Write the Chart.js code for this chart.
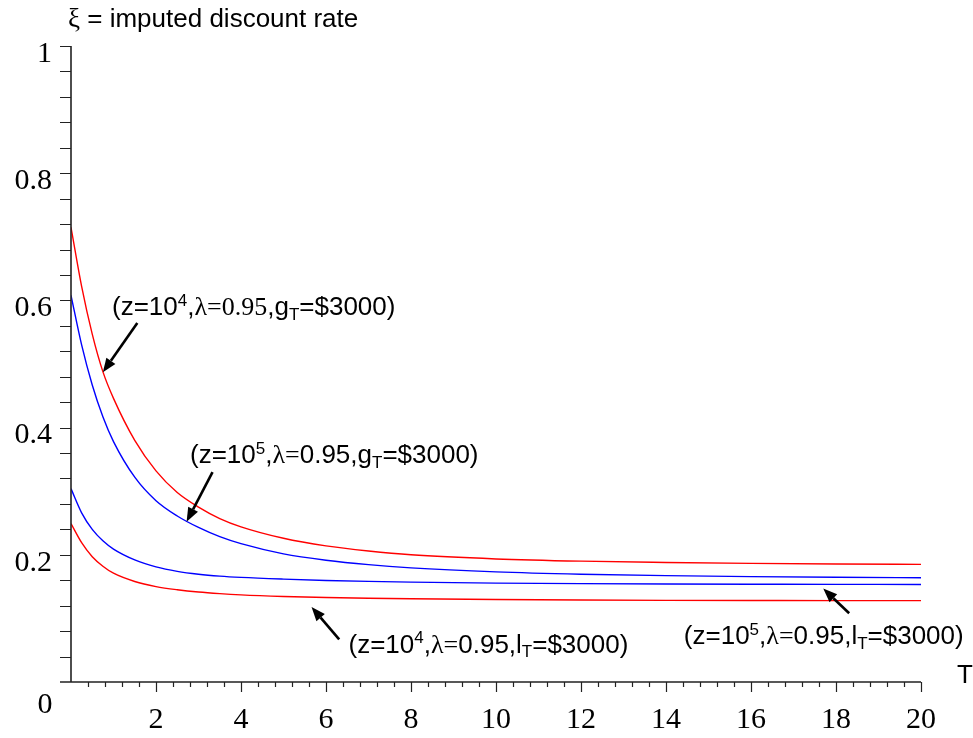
<!DOCTYPE html>
<html>
<head>
<meta charset="utf-8">
<script src="https://cdn.jsdelivr.net/npm/chart.js@4/dist/chart.umd.min.js"></script>
<style>
  body { margin: 0; background: #fff; }
  #rates { display: block; }
</style>
</head>
<body>
<canvas id="rates" width="973" height="738"></canvas>
<script>
// horizon T (years)
var T = [0, 0.25, 0.5, 0.75, 1, 1.5, 2, 2.5, 3, 3.5, 4, 5, 6, 7, 8, 10, 12, 14, 16, 18, 20];

// imputed discount rate for each case
var xiGain4 = [0.715, 0.622, 0.547, 0.488, 0.446, 0.38, 0.332, 0.298, 0.275, 0.257, 0.244, 0.226, 0.214, 0.206, 0.2, 0.1935, 0.19, 0.188, 0.1865, 0.1855, 0.185];
var xiGain5 = [0.608, 0.53, 0.467, 0.417, 0.378, 0.322, 0.285, 0.261, 0.243, 0.2285, 0.2175, 0.2015, 0.1915, 0.1845, 0.1795, 0.1732, 0.1695, 0.1672, 0.1657, 0.1647, 0.164];
var xiLoss5 = [0.304, 0.266, 0.24, 0.222, 0.209, 0.192, 0.181, 0.174, 0.1695, 0.1665, 0.1645, 0.1618, 0.1597, 0.1582, 0.157, 0.1555, 0.1546, 0.154, 0.1537, 0.1535, 0.1534];
var xiLoss4 = [0.249, 0.219, 0.197, 0.182, 0.171, 0.158, 0.15, 0.145, 0.1414, 0.1389, 0.137, 0.1345, 0.1328, 0.1316, 0.1308, 0.1296, 0.1289, 0.1284, 0.1281, 0.128, 0.128];

var xTickLabels = [2, 4, 6, 8, 10, 12, 14, 16, 18, 20];
var yTickLabels = [0.2, 0.4, 0.6, 0.8, 1];

function pts(ys) {
  return T.map(function (t, i) { return { x: t, y: ys[i] }; });
}

var SANS = '"Liberation Sans", Arial, sans-serif';
var SERIF = '"Liberation Serif", "Times New Roman", serif';

// curve callouts: text anchor and arrow (tail -> tip) in data units
var notes = [
  { at: [0.965, 0.588], tail: [1.56, 0.5645], tip: [0.75, 0.487], serifLam: true, n: '4', v: 'g' },
  { at: [2.80, 0.355], tail: [3.33, 0.330], tip: [2.72, 0.252], n: '5', v: 'g' },
  { at: [6.53, 0.057], tail: [6.31, 0.067], tip: [5.66, 0.118], n: '4', v: 'l' },
  { at: [14.42, 0.071], tail: [18.31, 0.108], tip: [17.70, 0.147], n: '5', v: 'l' }
];

function drawRich(ctx, x, y, parts) {
  ctx.textBaseline = 'middle';
  ctx.textAlign = 'left';
  parts.forEach(function (p) {
    ctx.font = p.font;
    ctx.fillText(p.t, x, y + (p.dy || 0));
    x += ctx.measureText(p.t).width;
  });
}

function noteParts(n) {
  var f = '26px ' + SANS, s = '17px ' + SANS, lf = '26px ' + SERIF;
  return [
    { t: '(z=10', font: f },
    { t: n.n, font: s, dy: -7 },
    { t: ',', font: f },
    { t: '\u03bb=', font: lf },
    { t: '0.95', font: n.serifLam ? lf : f },
    { t: ',' + n.v, font: f },
    { t: 'T', font: s, dy: 7 },
    { t: '=$3000)', font: f }
  ];
}

function arrow(ctx, x1, y1, x2, y2) {
  var a = Math.atan2(y2 - y1, x2 - x1), L = 14, W = 5.5;
  var bx = x2 - L * Math.cos(a), by = y2 - L * Math.sin(a);
  ctx.strokeStyle = '#000';
  ctx.lineWidth = 2.6;
  ctx.beginPath();
  ctx.moveTo(x1, y1);
  ctx.lineTo(bx, by);
  ctx.stroke();
  ctx.fillStyle = '#000';
  ctx.beginPath();
  ctx.moveTo(x2, y2);
  ctx.lineTo(bx + W * Math.sin(a), by - W * Math.cos(a));
  ctx.lineTo(bx - W * Math.sin(a), by + W * Math.cos(a));
  ctx.closePath();
  ctx.fill();
}

var axesPlugin = {
  id: 'mapleAxes',
  afterDraw: function (chart) {
    var ctx = chart.ctx, xs = chart.scales.x, ys = chart.scales.y;
    var x0 = xs.getPixelForValue(0), x20 = xs.getPixelForValue(20);
    var y0 = ys.getPixelForValue(0), y1 = ys.getPixelForValue(1);
    ctx.save();

    // axis lines
    ctx.strokeStyle = '#222';
    ctx.lineWidth = 1.6;
    ctx.beginPath();
    ctx.moveTo(x0 - 11, y0);
    ctx.lineTo(x20, y0);
    ctx.moveTo(x0, y0);
    ctx.lineTo(x0, y1);
    ctx.stroke();

    // x ticks every 0.4, longer at the labelled ones
    ctx.lineWidth = 1.2;
    ctx.beginPath();
    for (var k = 1; k <= 50; k++) {
      var px = Math.round(xs.getPixelForValue(k * 0.4)) + 0.5;
      ctx.moveTo(px, y0);
      ctx.lineTo(px, y0 + (k % 5 === 0 ? 10 : 5));
    }
    // y ticks every 0.04
    for (k = 1; k <= 25; k++) {
      var py = Math.round(ys.getPixelForValue(k * 0.04)) + 0.5;
      ctx.moveTo(x0 - 11, py);
      ctx.lineTo(x0, py);
    }
    ctx.stroke();

    // tick labels
    ctx.fillStyle = '#000';
    ctx.font = '30px ' + SERIF;
    ctx.textBaseline = 'middle';
    ctx.textAlign = 'center';
    xTickLabels.forEach(function (v) {
      ctx.fillText(String(v), xs.getPixelForValue(v), y0 + 38);
    });
    ctx.textAlign = 'right';
    yTickLabels.forEach(function (v) {
      ctx.fillText(String(v), x0 - 19, ys.getPixelForValue(v) + 8);
    });
    ctx.textAlign = 'center';
    ctx.fillText('0', x0 - 26, y0 + 23);

    // axis titles
    ctx.font = '26px ' + SANS;
    ctx.fillText('T', x20 + 44, y0 - 6);
    ctx.textAlign = 'left';
    ctx.textBaseline = 'alphabetic';
    ctx.font = '27px ' + SERIF;
    ctx.fillText('\u03be', x0 - 3, y1 - 19);
    var w = ctx.measureText('\u03be').width;
    ctx.font = '26px ' + SANS;
    ctx.fillText(' = imputed discount rate', x0 - 3 + w, y1 - 19);

    // callouts
    notes.forEach(function (n) {
      drawRich(ctx, xs.getPixelForValue(n.at[0]), ys.getPixelForValue(n.at[1]), noteParts(n));
      arrow(ctx, xs.getPixelForValue(n.tail[0]), ys.getPixelForValue(n.tail[1]),
        xs.getPixelForValue(n.tip[0]), ys.getPixelForValue(n.tip[1]));
    });
    ctx.restore();
  }
};

function curve(label, ys, color) {
  return {
    label: label,
    data: pts(ys),
    borderColor: color,
    borderWidth: 1.4,
    pointRadius: 0,
    fill: false,
    cubicInterpolationMode: 'monotone'
  };
}

new Chart(document.getElementById('rates'), {
  type: 'line',
  data: {
    datasets: [
      curve('z=1e4, g', xiGain4, '#ff0000'),
      curve('z=1e5, g', xiGain5, '#0000ff'),
      curve('z=1e5, l', xiLoss5, '#0000ff'),
      curve('z=1e4, l', xiLoss4, '#ff0000')
    ]
  },
  options: {
    responsive: false,
    animation: false,
    layout: { padding: { left: 71, right: 52, top: 46, bottom: 56 } },
    plugins: { legend: { display: false }, tooltip: { enabled: false } },
    scales: {
      x: { type: 'linear', min: 0, max: 20, display: false },
      y: { type: 'linear', min: 0, max: 1, display: false }
    }
  },
  plugins: [axesPlugin]
});
</script>
</body>
</html>
